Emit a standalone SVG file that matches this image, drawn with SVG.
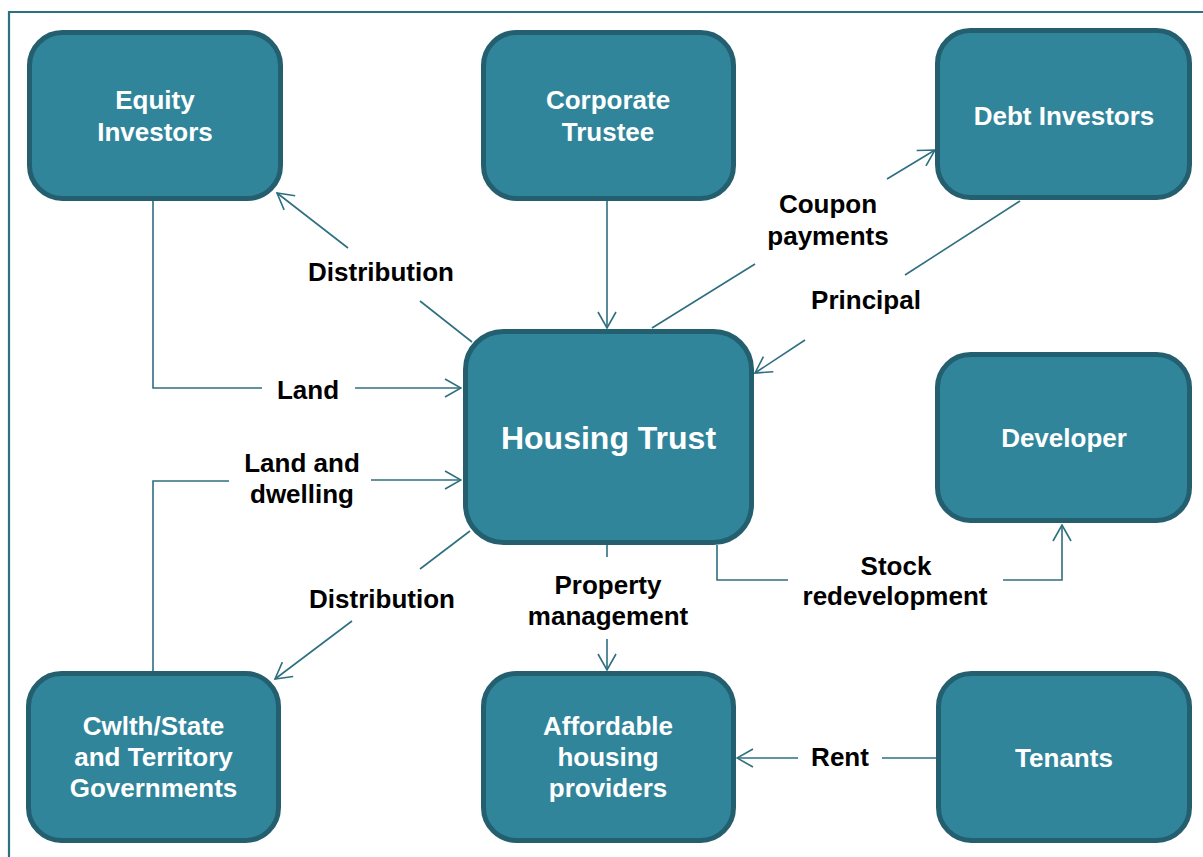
<svg xmlns="http://www.w3.org/2000/svg" width="1203" height="857" viewBox="0 0 1203 857">
<style>
.node rect{fill:#31859b;stroke:#245f6f;stroke-width:5}
.nt{font-family:"Liberation Sans",Arial,sans-serif;font-weight:bold;font-size:26px;fill:#ffffff;text-anchor:middle}
.big{font-size:32px}
.lb{font-family:"Liberation Sans",Arial,sans-serif;font-weight:bold;font-size:26px;fill:#000000;text-anchor:middle}
.c{fill:none;stroke:#2e6f80;stroke-width:1.6}
</style>
<defs>
<marker id="ah" markerUnits="userSpaceOnUse" viewBox="-1 -10 18 20" refX="16" refY="0" markerWidth="18" markerHeight="20" orient="auto">
<path d="M0,-9 L16,0 L0,9" fill="none" stroke="#2e6f80" stroke-width="1.6"/>
</marker>
</defs>
<rect width="1203" height="857" fill="#ffffff"/>
<path d="M9,857 V12 H1203" fill="none" stroke="#2e6f80" stroke-width="2.2"/>

<g id="connectors">
<path class="c" d="M153,201 V388 H262"/>
<path class="c" d="M355,388 H461" marker-end="url(#ah)"/>
<path class="c" d="M472,342 L420,301"/>
<path class="c" d="M348,248 L277,193" marker-end="url(#ah)"/>
<path class="c" d="M607,201 V328" marker-end="url(#ah)"/>
<path class="c" d="M652,328 L755,264"/>
<path class="c" d="M887,179 L935,150" marker-end="url(#ah)"/>
<path class="c" d="M1020,201 L905,275"/>
<path class="c" d="M805,340 L755,373" marker-end="url(#ah)"/>
<path class="c" d="M153,671 V481 H229"/>
<path class="c" d="M371,480 H461" marker-end="url(#ah)"/>
<path class="c" d="M470,531 L420,569"/>
<path class="c" d="M352,621 L275,679" marker-end="url(#ah)"/>
<path class="c" d="M607,545 V557"/>
<path class="c" d="M607,639 V670" marker-end="url(#ah)"/>
<path class="c" d="M717,545 V580 H788"/>
<path class="c" d="M1003,580 H1062 V525" marker-end="url(#ah)"/>
<path class="c" d="M936,758 H882"/>
<path class="c" d="M798,758 H737" marker-end="url(#ah)"/>
</g>

<g id="labels">
<text class="lb" x="381" y="281">Distribution</text>
<text class="lb" x="308" y="399">Land</text>
<text class="lb" x="302" y="472">Land and</text>
<text class="lb" x="302" y="503">dwelling</text>
<text class="lb" x="382" y="608">Distribution</text>
<text class="lb" x="828" y="213">Coupon</text>
<text class="lb" x="828" y="245">payments</text>
<text class="lb" x="866" y="309">Principal</text>
<text class="lb" x="608" y="594">Property</text>
<text class="lb" x="608" y="625">management</text>
<text class="lb" x="896" y="575">Stock</text>
<text class="lb" x="895" y="605">redevelopment</text>
<text class="lb" x="840" y="766">Rent</text>
</g>

<g id="equity-investors" class="node">
<rect x="29.5" y="32.5" width="251" height="166" rx="33"/>
<text class="nt" x="155" y="109">Equity</text>
<text class="nt" x="155" y="141">Investors</text>
</g>
<g id="corporate-trustee" class="node">
<rect x="483.5" y="32.5" width="250" height="166" rx="33"/>
<text class="nt" x="608" y="109">Corporate</text>
<text class="nt" x="608" y="141">Trustee</text>
</g>
<g id="debt-investors" class="node">
<rect x="937.5" y="30.5" width="252" height="167" rx="33"/>
<text class="nt" x="1064" y="125">Debt Investors</text>
</g>
<g id="housing-trust" class="node">
<rect x="465.5" y="331.5" width="286" height="211" rx="38"/>
<text class="nt big" x="608.5" y="449">Housing Trust</text>
</g>
<g id="developer" class="node">
<rect x="937.5" y="354.5" width="252" height="166" rx="33"/>
<text class="nt" x="1064" y="447">Developer</text>
</g>
<g id="governments" class="node">
<rect x="28.5" y="673.5" width="250" height="167" rx="33"/>
<text class="nt" x="153.5" y="735">Cwlth/State</text>
<text class="nt" x="153.5" y="766">and Territory</text>
<text class="nt" x="153.5" y="797">Governments</text>
</g>
<g id="affordable-housing-providers" class="node">
<rect x="483.5" y="673.5" width="250" height="167" rx="33"/>
<text class="nt" x="608" y="735">Affordable</text>
<text class="nt" x="608" y="766">housing</text>
<text class="nt" x="608" y="797">providers</text>
</g>
<g id="tenants" class="node">
<rect x="938.5" y="673.5" width="251" height="167" rx="33"/>
<text class="nt" x="1064" y="767">Tenants</text>
</g>
</svg>
